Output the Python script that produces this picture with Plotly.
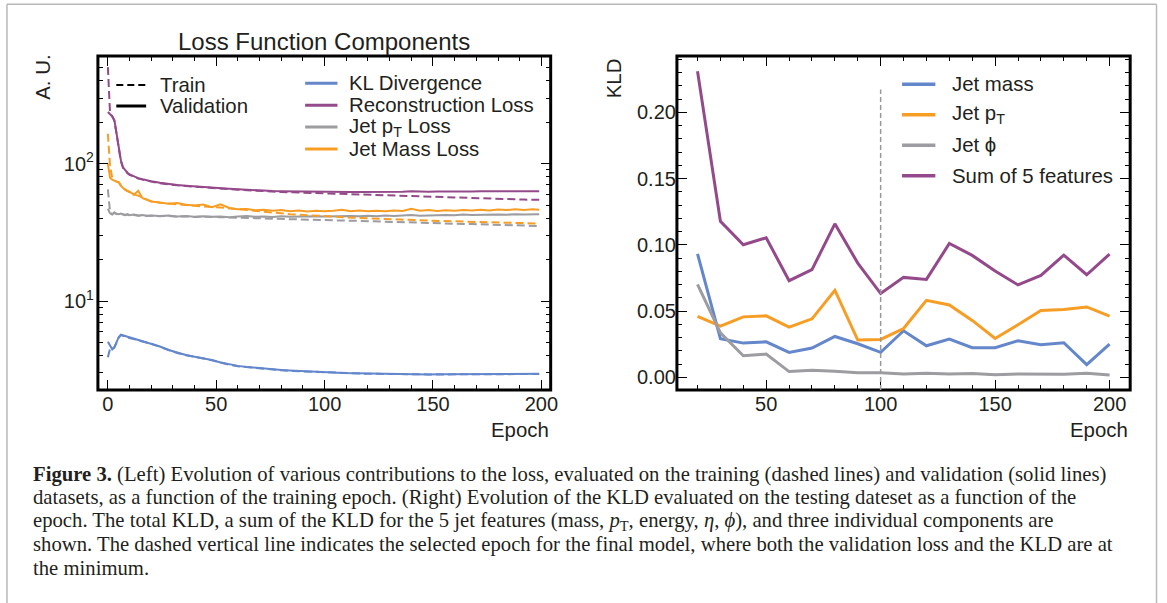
import plotly.graph_objects as go

W, H = 1167, 603

# ---------------- data: left panel (loss components) ----------------
EPOCHS = [0, 1, 2, 3, 4, 5, 6, 7, 8, 9, 10, 12, 14, 16, 18, 20, 24, 28, 32, 36, 40, 44, 48, 52, 56,
          60, 64, 68, 72, 76, 80, 84, 88, 92, 96, 100, 104, 108, 112, 116, 120, 124, 128, 132, 136,
          140, 144, 148, 152, 156, 160, 164, 168, 172, 176, 180, 184, 188, 192, 196, 199]

KL_VAL = [5.05, 4.75, 4.45, 4.62, 5.0, 5.45, 5.68, 5.62, 5.55, 5.47, 5.4,
          5.3, 5.22, 5.12, 5.0, 4.9, 4.66, 4.4, 4.2, 4.05, 3.93, 3.84, 3.72, 3.57, 3.45,
          3.37, 3.31, 3.26, 3.22, 3.19, 3.15, 3.12, 3.09, 3.07, 3.05,
          3.03, 3.01, 2.99, 2.98, 2.97, 2.96, 2.96, 2.95, 2.94, 2.94,
          2.93, 2.93, 2.92, 2.93, 2.93, 2.94, 2.94, 2.94, 2.95, 2.95,
          2.95, 2.96, 2.96, 2.96, 2.96, 2.95]
KL_TRAIN = [3.9, 4.5, 4.42, 4.6, 4.98, 5.42, 5.65, 5.6, 5.53, 5.45, 5.38,
            5.28, 5.2, 5.1, 4.98, 4.88, 4.64, 4.38, 4.18, 4.03, 3.9, 3.82, 3.7, 3.55, 3.43,
            3.35, 3.3, 3.25, 3.2, 3.17, 3.13, 3.1, 3.08, 3.06, 3.04,
            3.02, 3.0, 2.98, 2.97, 2.96, 2.95, 2.95, 2.94, 2.93, 2.93,
            2.92, 2.92, 2.92, 2.92, 2.92, 2.93, 2.93, 2.93, 2.94, 2.94,
            2.94, 2.95, 2.95, 2.95, 2.95, 2.94]

RECO_VAL = [238, 229, 221, 208, 168, 133, 106, 94, 89, 86, 83.5,
            80.5, 78.5, 77, 75.5, 74.5, 72.5, 71, 70, 69.2, 68.3, 67.8, 67, 66.3, 65.6,
            65, 64.4, 64, 63.6, 63.3, 63.1, 62.9, 62.8, 62.7, 62.6,
            62.5, 62.4, 62.4, 62.3, 62.3, 62.2, 62.3, 62.4, 62.5, 62.4,
            63.1, 62.6, 62.5, 62.7, 62.6, 62.8, 62.9, 62.8, 63.0, 63.1,
            63.0, 63.2, 63.3, 63.2, 63.7, 63.0]
RECO_TRAIN = [505, 232, 221, 205, 165, 130, 104, 93, 88.5, 85.5, 83,
              80, 78, 76.5, 75, 74, 72, 70.6, 69.6, 68.8, 67.9, 67.3, 66.6, 65.9, 65.2,
              64.6, 64.0, 63.5, 63.0, 62.6, 62.2, 61.9, 61.6, 61.3, 61.0,
              60.7, 60.4, 60.1, 59.8, 59.5, 59.2, 58.9, 58.6, 58.3, 58.0,
              57.7, 57.4, 57.1, 56.9, 56.6, 56.4, 56.2, 56.0, 55.8, 55.6,
              55.4, 55.2, 55.0, 54.8, 54.6, 54.5]

JPT_VAL = [47, 43.5, 42.6, 44.2, 43.2, 42.8, 43.4, 42.7, 42.3, 42.9, 42.2,
           42.6, 41.9, 42.3, 41.7, 42.0, 41.6, 41.9, 41.3, 41.6, 41.1, 41.5, 41.0, 41.3, 40.8,
           41.2, 41.6, 41.0, 41.3, 40.9, 41.4, 41.0, 41.3, 41.1, 41.5,
           41.2, 41.5, 41.3, 41.6, 41.4, 41.8, 41.5, 41.9, 41.6, 42.0,
           42.3, 41.8, 42.1, 42.0, 42.3, 42.1, 42.6, 42.3, 42.5, 42.4,
           42.7, 42.5, 42.9, 42.6, 43.0, 42.8]
JPT_TRAIN = [65, 44.5, 42.8, 43.8, 43.0, 42.6, 43.1, 42.5, 42.2, 42.6, 42.0,
             42.3, 41.8, 42.0, 41.6, 41.8, 41.4, 41.6, 41.1, 41.3, 40.9, 41.1, 40.7, 40.8, 40.5,
             40.5, 40.3, 40.1, 39.9, 39.7, 39.5, 39.4, 39.2, 39.1, 38.9,
             38.8, 38.7, 38.5, 38.4, 38.3, 38.1, 38.0, 37.8, 37.7, 37.5,
             37.4, 37.2, 37.0, 36.9, 36.7, 36.6, 36.4, 36.3, 36.1, 36.0,
             35.9, 35.7, 35.6, 35.4, 35.3, 35.2]

MASS_VAL = [100, 79, 76.5, 75, 74, 73.5, 69, 66.5, 64.5, 63.5, 62.5,
            59.5, 63.5, 56, 54.5, 53, 52.2, 51, 51.8, 50.2, 49.6, 50.4, 48.2, 50.6, 47.6,
            46.5, 46.8, 45.8, 46.2, 45.4, 45.9, 45.0, 45.6, 44.9, 45.4,
            45.0, 45.5, 46.2, 45.1, 45.6, 45.0, 45.5, 45.1, 45.7, 45.2,
            47.0, 45.4, 45.9, 45.3, 45.8, 45.4, 46.0, 45.6, 46.2, 45.7,
            46.3, 45.9, 46.5, 46.0, 46.6, 46.2]
MASS_TRAIN = [165, 96, 79, 75.5, 74, 73, 69.5, 66.5, 64.5, 63.2, 62,
              59.5, 58.5, 56.5, 54.5, 53.2, 52, 51, 50.6, 50, 49.3, 49, 48.3, 48, 47.3,
              46.4, 45.8, 45.1, 44.5, 43.9, 43.4, 42.9, 42.5, 42.1, 41.7,
              41.4, 41.1, 40.8, 40.5, 40.2, 40.0, 39.7, 39.5, 39.3, 39.1,
              38.9, 38.7, 38.5, 38.3, 38.1, 37.9, 37.8, 37.6, 37.5, 37.3,
              37.2, 37.1, 37.0, 36.9, 36.8, 36.7]

LEFT_SERIES = ["KL Divergence", "Reconstruction Loss", "Jet p<sub>T</sub> Loss", "Jet Mass Loss"]

# ---------------- data: right panel (KLD vs epoch) ----------------
KLD_EPOCHS = [20, 30, 40, 50, 60, 70, 80, 90, 100, 110, 120, 130, 140, 150, 160, 170, 180, 190, 200]
KLD_MASS = [0.0932, 0.0291, 0.0258, 0.0268, 0.0188, 0.0221, 0.0308, 0.0253, 0.0188, 0.0351,
            0.0238, 0.0288, 0.0223, 0.0223, 0.0276, 0.0246, 0.0261, 0.0095, 0.0251]
KLD_PT = [0.0459, 0.0386, 0.0456, 0.0464, 0.0378, 0.0441, 0.0657, 0.0281, 0.0286, 0.0368,
          0.0581, 0.0546, 0.0429, 0.0293, 0.0396, 0.0504, 0.0511, 0.0531, 0.0461]
KLD_PHI = [0.0702, 0.0336, 0.0163, 0.0175, 0.0043, 0.0053, 0.0045, 0.0035, 0.0035, 0.0025,
           0.0030, 0.0025, 0.0028, 0.0020, 0.0025, 0.0023, 0.0023, 0.0030, 0.0018]
KLD_SUM = [0.231, 0.1178, 0.1000, 0.1053, 0.0729, 0.0812, 0.1158, 0.0862, 0.0632, 0.0754,
           0.0739, 0.1010, 0.0920, 0.0802, 0.0697, 0.0769, 0.0922, 0.0774, 0.0930]
RIGHT_SERIES = ["Jet mass", "Jet p<sub>T</sub>", "Jet ϕ", "Sum of 5 features"]
SELECTED_EPOCH = 100

CAPTION = [
    "<b>Figure 3.</b> (Left) Evolution of various contributions to the loss, evaluated on the training (dashed lines) and validation (solid lines)",
    "datasets, as a function of the training epoch. (Right) Evolution of the KLD evaluated on the testing dateset as a function of the",
    "epoch. The total KLD, a sum of the KLD for the 5 jet features (mass, <i>p</i><sub>T</sub>, energy, <i>η</i>, <i>ϕ</i>), and three individual components are",
    "shown. The dashed vertical line indicates the selected epoch for the final model, where both the validation loss and the KLD are at",
    "the minimum.",
]

# ---------------- styles ----------------
BLUE, PURPLE, GRAY, ORANGE = "#6487cc", "#944a8a", "#9c9ca1", "#f79d24"
TXT = "#231f20"
SANS = "Liberation Sans, Arial, Helvetica, sans-serif"
SERIF = "Liberation Serif, Times New Roman, serif"


def px(x):
    return x / W


def py(y):
    return 1 - y / H


fig = go.Figure()

left_sets = [(KL_TRAIN, KL_VAL, BLUE), (RECO_TRAIN, RECO_VAL, PURPLE),
             (JPT_TRAIN, JPT_VAL, GRAY), (MASS_TRAIN, MASS_VAL, ORANGE)]
for name, (tr, va, col) in zip(LEFT_SERIES, left_sets):
    fig.add_trace(go.Scatter(x=EPOCHS, y=tr, mode="lines", name=name + " (train)",
                             line=dict(color=col, width=2, dash="8px,4px"),
                             xaxis="x", yaxis="y", showlegend=False))
    fig.add_trace(go.Scatter(x=EPOCHS, y=va, mode="lines", name=name + " (validation)",
                             line=dict(color=col, width=2),
                             xaxis="x", yaxis="y", showlegend=False))

for name, vals, col in zip(RIGHT_SERIES, [KLD_MASS, KLD_PT, KLD_PHI, KLD_SUM],
                           [BLUE, ORANGE, GRAY, PURPLE]):
    fig.add_trace(go.Scatter(x=KLD_EPOCHS, y=vals, mode="lines", name=name,
                             line=dict(color=col, width=3),
                             xaxis="x2", yaxis="y2", showlegend=False))

tickfont = dict(family=SANS, size=20, color=TXT)
common = dict(showline=False, mirror="allticks",
              ticks="inside", ticklen=10, tickwidth=1.3, tickcolor="black",
              showgrid=False, zeroline=False, tickfont=tickfont)
minor_lin = dict(ticks="inside", ticklen=5, tickwidth=1.2, tickcolor="black", dtick=10, tick0=0)

yd = [py(390), py(56)]
fig.update_layout(
    width=W, height=H, margin=dict(l=0, r=0, t=0, b=0),
    paper_bgcolor="white", plot_bgcolor="white", showlegend=False,
    xaxis=dict(domain=[px(98.5), px(554)], range=[-4.6, 204.3], anchor="y",
               tickmode="linear", tick0=0, dtick=50, minor=minor_lin, **common),
    yaxis=dict(domain=yd, type="log", range=[0.352, 2.784], anchor="x",
               tickvals=[10, 100], ticktext=["10<sup>1</sup>", "10<sup>2</sup>"],
               ticklabelstandoff=3,
               minor=dict(ticks="inside", ticklen=5, tickwidth=1.2, tickcolor="black",
                          tickvals=[3, 4, 5, 6, 7, 8, 9, 20, 30, 40, 50, 60, 70, 80, 90,
                                    200, 300, 400, 500, 600]),
               **common),
    xaxis2=dict(domain=[px(681), px(1137)], range=[11, 209], anchor="y2",
                tickmode="linear", tick0=0, dtick=50, minor=minor_lin, **common),
    yaxis2=dict(domain=yd, range=[-0.0096, 0.2425], anchor="x2",
                tickmode="linear", tick0=0, dtick=0.05, tickformat=".2f",
                minor=dict(ticks="inside", ticklen=5, tickwidth=1.2, tickcolor="black",
                           dtick=0.01, tick0=0),
                **common),
)

shapes = []
# axes frames
for xr, yr in [("x domain", "y domain"), ("x2 domain", "y2 domain")]:
    shapes.append(dict(type="rect", xref=xr, yref=yr, x0=0, x1=1, y0=0, y1=1, layer="above",
                       line=dict(color="black", width=3), fillcolor="rgba(0,0,0,0)"))
# selected epoch marker
shapes.append(dict(type="line", xref="x2", yref="y2 domain", x0=SELECTED_EPOCH, x1=SELECTED_EPOCH,
                   y0=0, y1=0.9, line=dict(color="#9a9a9a", width=1.5, dash="5px,3px")))
# outer figure border (open at bottom)
bc = dict(color="#b8b8b8", width=1.5)
shapes.append(dict(type="line", xref="paper", yref="paper", x0=px(7), x1=px(7), y0=0, y1=py(4.3), line=bc))
shapes.append(dict(type="line", xref="paper", yref="paper", x0=px(7), x1=px(1163.5), y0=py(4.3), y1=py(4.3), line=bc))
shapes.append(dict(type="line", xref="paper", yref="paper", x0=px(1163.5), x1=px(1163.5), y0=0, y1=py(4.3), line=bc))

annotations = []


def text(x, y, s, size=20.4, xanchor="left", yanchor="middle", angle=0, family=SANS):
    annotations.append(dict(x=px(x), y=py(y), xref="paper", yref="paper", text=s, showarrow=False,
                            xanchor=xanchor, yanchor=yanchor, textangle=angle,
                            font=dict(family=family, size=size, color=TXT)))


# left legend: line styles
shapes.append(dict(type="line", xref="paper", yref="paper", x0=px(117), x1=px(147), y0=py(85), y1=py(85),
                   line=dict(color="black", width=2, dash="7px,4px")))
shapes.append(dict(type="line", xref="paper", yref="paper", x0=px(117), x1=px(147), y0=py(106), y1=py(106),
                   line=dict(color="black", width=3)))
text(159, 85, "Train")
text(159, 106, "Validation")
# left legend: colours
for i, (name, col) in enumerate(zip(LEFT_SERIES, [BLUE, PURPLE, GRAY, ORANGE])):
    yy = 83.3 + 21.9 * i
    shapes.append(dict(type="line", xref="paper", yref="paper", x0=px(307), x1=px(339.5), y0=py(yy), y1=py(yy),
                       line=dict(color=col, width=3)))
    text(349.5, yy, name)
# right legend
for i, (name, col) in enumerate(zip(RIGHT_SERIES, [BLUE, ORANGE, GRAY, PURPLE])):
    yy = 84.3 + 30.5 * i
    shapes.append(dict(type="line", xref="paper", yref="paper", x0=px(907.5), x1=px(941), y0=py(yy), y1=py(yy),
                       line=dict(color=col, width=3.5)))
    text(956, yy, name)

# titles and axis labels
text(326.4, 41, "Loss Function Components", size=24, xanchor="center")
text(42.5, 53, "A. U.", xanchor="center", yanchor="top", angle=-90)
text(618, 56, "KLD", xanchor="center", yanchor="top", angle=-90)
text(554, 430, "Epoch", xanchor="right")
text(1137, 430, "Epoch", xanchor="right")

# caption
for i, line in enumerate(CAPTION):
    text(31, 474 + 23.6 * i, line, size=20.7, family=SERIF)

fig.update_layout(shapes=shapes, annotations=annotations)
fig.write_html("out.html")
